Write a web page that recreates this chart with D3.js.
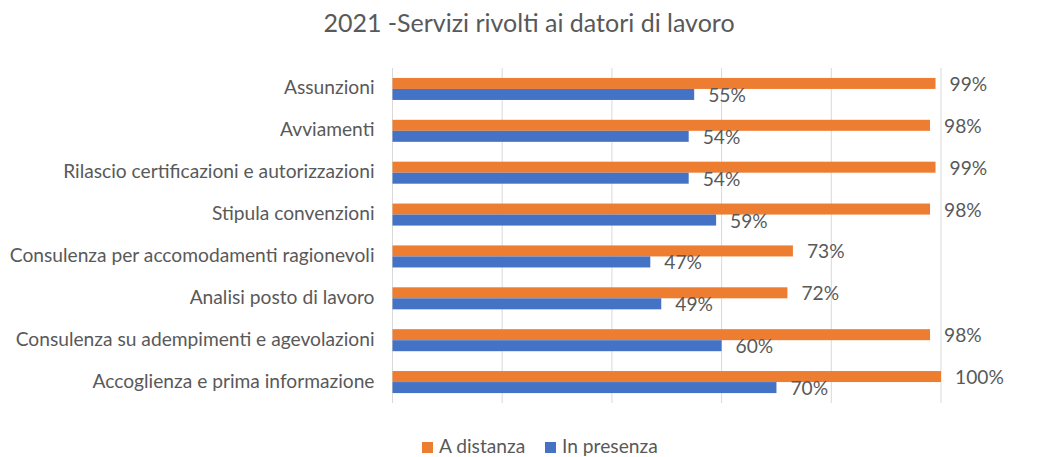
<!DOCTYPE html>
<html>
<head>
<meta charset="utf-8">
<script src="https://cdn.jsdelivr.net/npm/d3@7"></script>
<style>
  body { margin: 0; background: #fff; }
  svg text { font-family: Lato, "Open Sans", sans-serif; fill: #595959; }
</style>
</head>
<body>
<svg id="chart" width="1037" height="457"></svg>
<script>
"use strict";

// data, top to bottom
const categories = [
    "Assunzioni",
    "Avviamenti",
    "Rilascio certificazioni e autorizzazioni",
    "Stipula convenzioni",
    "Consulenza per accomodamenti ragionevoli",
    "Analisi posto di lavoro",
    "Consulenza su adempimenti e agevolazioni",
    "Accoglienza e prima informazione"
];
const seriesNames = ["A distanza", "In presenza"];
const aDistanza = [99, 98, 99, 98, 73, 72, 98, 100];
const inPresenza = [55, 54, 54, 59, 47, 49, 60, 70];
const xTicks = [0, 20, 40, 60, 80, 100];

const colors = {"A distanza": "#ED7D31", "In presenza": "#4472C4"};

const svg = d3.select("#chart");
const plot = {left: 392.5, right: 941, top: 68, bottom: 403};
const fontSize = "19.2px";

const rows = categories.map((c, i) => ({
    cat: c,
    values: [
        {key: seriesNames[0], value: aDistanza[i]},
        {key: seriesNames[1], value: inPresenza[i]}
    ]
}));

const x = d3.scaleLinear().domain([0, 100]).range([plot.left, plot.right]);
const y = d3.scaleBand().domain(categories).range([plot.top, plot.bottom])
    .paddingInner(0.474).paddingOuter(0.237);
const ySub = d3.scaleBand().domain(seriesNames).range([0, y.bandwidth()]);

// title
svg.append("text")
    .attr("x", 529).attr("y", 32)
    .attr("text-anchor", "middle")
    .style("font-size", "25px")
    .text("2021 -Servizi rivolti ai datori di lavoro");

// vertical gridlines
svg.append("g").selectAll("line")
    .data(xTicks)
    .enter().append("line")
    .attr("x1", d => x(d)).attr("x2", d => x(d))
    .attr("y1", plot.top).attr("y2", plot.bottom)
    .attr("stroke", "#d9d9d9")
    .attr("stroke-width", 1);

// category labels
svg.append("g").selectAll("text")
    .data(categories)
    .enter().append("text")
    .attr("x", plot.left - 18)
    .attr("y", d => y(d) + y.bandwidth() / 2 + 5.5)
    .attr("text-anchor", "end")
    .style("font-size", fontSize)
    .text(d => d);

// bars
const groups = svg.append("g").selectAll("g")
    .data(rows)
    .enter().append("g")
    .attr("transform", d => "translate(0," + y(d.cat) + ")");

groups.selectAll("rect")
    .data(d => d.values)
    .enter().append("rect")
    .attr("x", x(0))
    .attr("y", d => ySub(d.key))
    .attr("width", d => x(d.value) - x(0))
    .attr("height", ySub.bandwidth())
    .attr("fill", d => colors[d.key]);

groups.selectAll("text")
    .data(d => d.values)
    .enter().append("text")
    .attr("x", d => x(d.value) + 14)
    .attr("y", d => ySub(d.key) + ySub.bandwidth() / 2 + 7.5)
    .style("font-size", fontSize)
    .text(d => d.value + "%");

// legend
const legend = svg.append("g").attr("transform", "translate(422,442)");
const legendX = [0, 123];
seriesNames.forEach((s, i) => {
    legend.append("rect")
        .attr("x", legendX[i]).attr("y", 0)
        .attr("width", 11).attr("height", 11)
        .attr("fill", colors[s]);
    legend.append("text")
        .attr("x", legendX[i] + 17).attr("y", 11)
        .style("font-size", fontSize)
        .text(s);
});
</script>
</body>
</html>
